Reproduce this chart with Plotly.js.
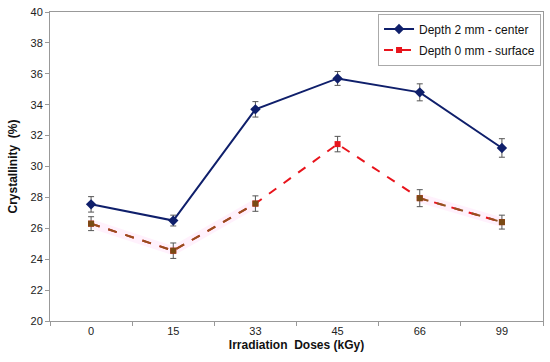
<!DOCTYPE html>
<html><head><meta charset="utf-8">
<script src="https://cdn.plot.ly/plotly-3.0.1.min.js"></script>
<style>body{margin:0;background:#fff}#c{width:550px;height:362px}</style>
</head><body><div id="c"></div>
<script>
var doses = ["0", "15", "33", "45", "66", "99"];
var center = [27.55, 26.5, 33.7, 35.7, 34.8, 31.2];
var centerErr = [0.5, 0.35, 0.5, 0.45, 0.55, 0.6];
var surface = [26.3, 24.55, 27.6, 31.45, 27.95, 26.4];
var surfaceErr = [0.45, 0.5, 0.5, 0.5, 0.55, 0.45];
var brownMask = [true, true, true, false, true, true];

var surfBrown = surface.map(function(v, i){ return brownMask[i] ? v : null; });

var traces = [
  { x: doses, y: surfBrown, mode: 'lines', showlegend: false, hoverinfo: 'skip',
    line: {color: 'rgba(255,150,230,0.13)', width: 9} },
  { x: doses, y: center, name: 'Depth 2 mm - center', mode: 'lines+markers',
    legendgroup: 'a',
    line: {color: '#0f1f6b', width: 2},
    marker: {symbol: 'diamond', size: 8, color: '#0f1f6b'},
    error_y: {type: 'data', array: centerErr, visible: true, color: '#555', thickness: 1, width: 3} },
  { x: doses, y: surface, name: 'Depth 0 mm - surface', mode: 'lines+markers',
    legendgroup: 'b',
    line: {color: '#e8141c', width: 2, dash: 'dash'},
    marker: {symbol: 'square', size: 6, color: '#e8141c'},
    error_y: {type: 'data', array: surfaceErr, visible: true, color: '#555', thickness: 1, width: 3} },
  { x: doses, y: surfBrown, mode: 'lines+markers', showlegend: false, hoverinfo: 'skip',
    line: {color: '#94501f', width: 2, dash: 'dash'},
    marker: {symbol: 'square', size: 6, color: '#7a4a14'} }
];

var layout = {
  width: 550, height: 362,
  margin: {l: 50, r: 7, t: 12, b: 41},
  paper_bgcolor: '#fff', plot_bgcolor: '#fff',
  font: {family: 'Liberation Sans, Arial, sans-serif', size: 11, color: '#222'},
  showlegend: true,
  legend: {x: 0.996, xanchor: 'right', y: 0.995, yanchor: 'top',
    bordercolor: '#aaa', borderwidth: 1, bgcolor: '#fff',
    font: {size: 12, color: '#111'}, traceorder: 'grouped', tracegroupgap: 2},
  xaxis: {type: 'category', range: [-0.5, 5.5], tickson: 'boundaries',
    ticks: 'outside', ticklen: 4, tickcolor: '#999',
    showline: true, linecolor: '#999', linewidth: 1, mirror: true,
    showgrid: false, zeroline: false, tickfont: {size: 11, color: '#222'},
    title: {text: 'Irradiation  Doses (kGy)', font: {size: 12, color: '#111', weight: 'bold'}, standoff: 4}},
  yaxis: {range: [20, 40], dtick: 2, ticks: 'outside', ticklen: 4, tickcolor: '#999',
    showline: true, linecolor: '#999', linewidth: 1, mirror: true,
    showgrid: false, zeroline: false, tickfont: {size: 11, color: '#222'},
    title: {text: 'Crystallinity  (%)', font: {size: 12, color: '#111', weight: 'bold'}, standoff: 10}}
};
Plotly.newPlot('c', traces, layout, {displayModeBar: false, staticPlot: true});
</script></body></html>
